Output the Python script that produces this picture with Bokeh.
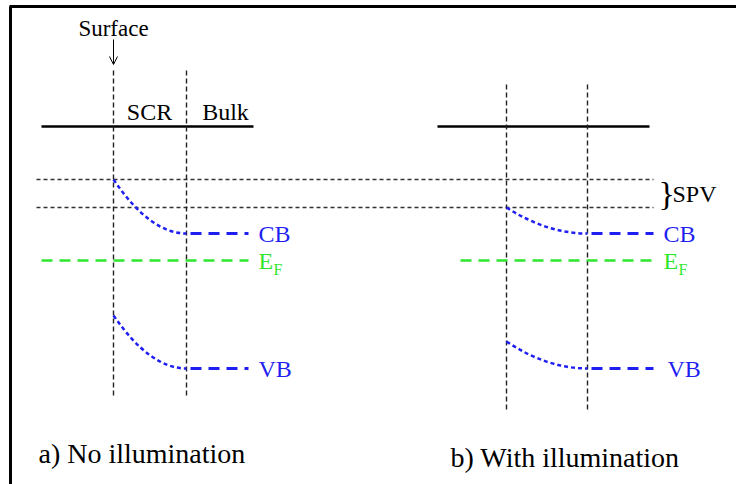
from bokeh.plotting import figure
from bokeh.models import Range1d, Arrow, OpenHead
from bokeh.core.properties import value
from bokeh.embed import file_html
from bokeh.resources import INLINE

# ---- schematic values (screen-like units, y grows downward) ----
panel_titles = ["a) No illumination", "b) With illumination"]
title_x = [38, 450]
title_y = [453, 457]
surface_x = [113, 506]          # surface position
bulk_x = [186, 587]             # SCR / bulk boundary
band_end_x = [248, 653]
ef_start_x = [41, 460]
vac_x0 = [41, 437]
vac_x1 = [253, 649]
vac_level = [126, 126]
divider_top = [70, 84]
divider_bottom = [395, 409]
cb_surface = [179, 207]
cb_bulk = [233, 233]
vb_surface = [315, 341]
vb_bulk = [368, 368]
ef_level = [260, 260]
label_x = [258, 663]
vb_label_x = [258, 667]
spv_levels = [179, 207]
spv_x0, spv_x1 = 36, 653
region_labels = ["SCR", "Bulk"]
region_label_x = [149, 225]
region_label_y = 111

BLUE = "#1f1ff2"
GREEN = "#2ee62e"
SERIF = value("Liberation Serif")

p = figure(width=736, height=484, x_range=Range1d(0, 736), y_range=Range1d(484, 0),
           output_backend="svg", toolbar_location=None, min_border=0)
p.axis.visible = False
p.grid.visible = False
p.outline_line_color = None
p.background_fill_color = "white"

# frame lines (top and left)
p.segment(x0=[9, 10], y0=[6, 6], x1=[736, 10], y1=[6, 484],
          line_color="black", line_width=3)

# SPV reference levels
p.segment(x0=[spv_x0] * 2, y0=spv_levels, x1=[spv_x1] * 2, y1=spv_levels,
          line_color="#333333", line_width=1.3, line_dash="4 3")

# vacuum / surface lines
p.segment(x0=vac_x0, y0=vac_level, x1=vac_x1, y1=vac_level, line_color="black", line_width=2.5)

# vertical dividers
for i in range(2):
    p.segment(x0=[surface_x[i], bulk_x[i]], y0=[divider_top[i]] * 2,
              x1=[surface_x[i], bulk_x[i]], y1=[divider_bottom[i]] * 2,
              line_color="#222222", line_width=1.4, line_dash="5 3")

# band bending curves (quadratic, flat at bulk)
ctrl_x = [(s + b) / 2 for s, b in zip(surface_x, bulk_x)]
p.quadratic(x0=surface_x * 2, y0=cb_surface + vb_surface, x1=bulk_x * 2, y1=cb_bulk + vb_bulk,
            cx=ctrl_x * 2, cy=cb_bulk + vb_bulk, line_color=BLUE, line_width=2.5, line_dash="4 3")
# flat bulk bands
p.segment(x0=[b + 4 for b in bulk_x] * 2, y0=cb_bulk + vb_bulk, x1=band_end_x * 2, y1=cb_bulk + vb_bulk,
          line_color=BLUE, line_width=2.8, line_dash="11 7")
# Fermi level
p.segment(x0=ef_start_x, y0=ef_level, x1=band_end_x, y1=ef_level,
          line_color=GREEN, line_width=2.5, line_dash="11 7")

# labels
p.text(x=label_x, y=cb_bulk, text=["CB", "CB"], text_color=BLUE, text_font=SERIF,
       text_font_size="24px", text_baseline="middle", text_align="left")
p.text(x=vb_label_x, y=vb_bulk, text=["VB", "VB"], text_color=BLUE, text_font=SERIF,
       text_font_size="24px", text_baseline="middle", text_align="left")
p.text(x=label_x, y=ef_level, text=["E", "E"], text_color=GREEN, text_font=SERIF,
       text_font_size="24px", text_baseline="middle", text_align="left")
p.text(x=[x + 15 for x in label_x], y=[e + 9 for e in ef_level], text=["F", "F"], text_color=GREEN,
       text_font=SERIF, text_font_size="16px", text_baseline="middle", text_align="left")

p.text(x=region_label_x, y=[region_label_y] * 2, text=region_labels, text_color="black",
       text_font=SERIF, text_font_size="24px", text_baseline="middle", text_align="center")

p.text(x=[surface_x[0]], y=[28], text=["Surface"], text_color="black", text_font=SERIF,
       text_font_size="23px", text_baseline="middle", text_align="center")
p.add_layout(Arrow(end=OpenHead(size=8, line_width=1, line_color="black"),
                   x_start=surface_x[0], y_start=39, x_end=surface_x[0], y_end=64,
                   line_color="black", line_width=1))

# SPV brace and label
p.text(x=[658], y=[(spv_levels[0] + spv_levels[1]) / 2], text=["}"], text_color="black",
       text_font=SERIF, text_font_size="34px", text_baseline="middle", text_align="left")
p.text(x=[672], y=[193], text=["SPV"], text_color="black", text_font=SERIF,
       text_font_size="24px", text_baseline="middle", text_align="left")

# panel titles
p.text(x=title_x, y=title_y, text=panel_titles, text_color="black", text_font=SERIF,
       text_font_size="28px", text_baseline="middle", text_align="left")

open("out.html", "w").write(file_html(p, INLINE))
